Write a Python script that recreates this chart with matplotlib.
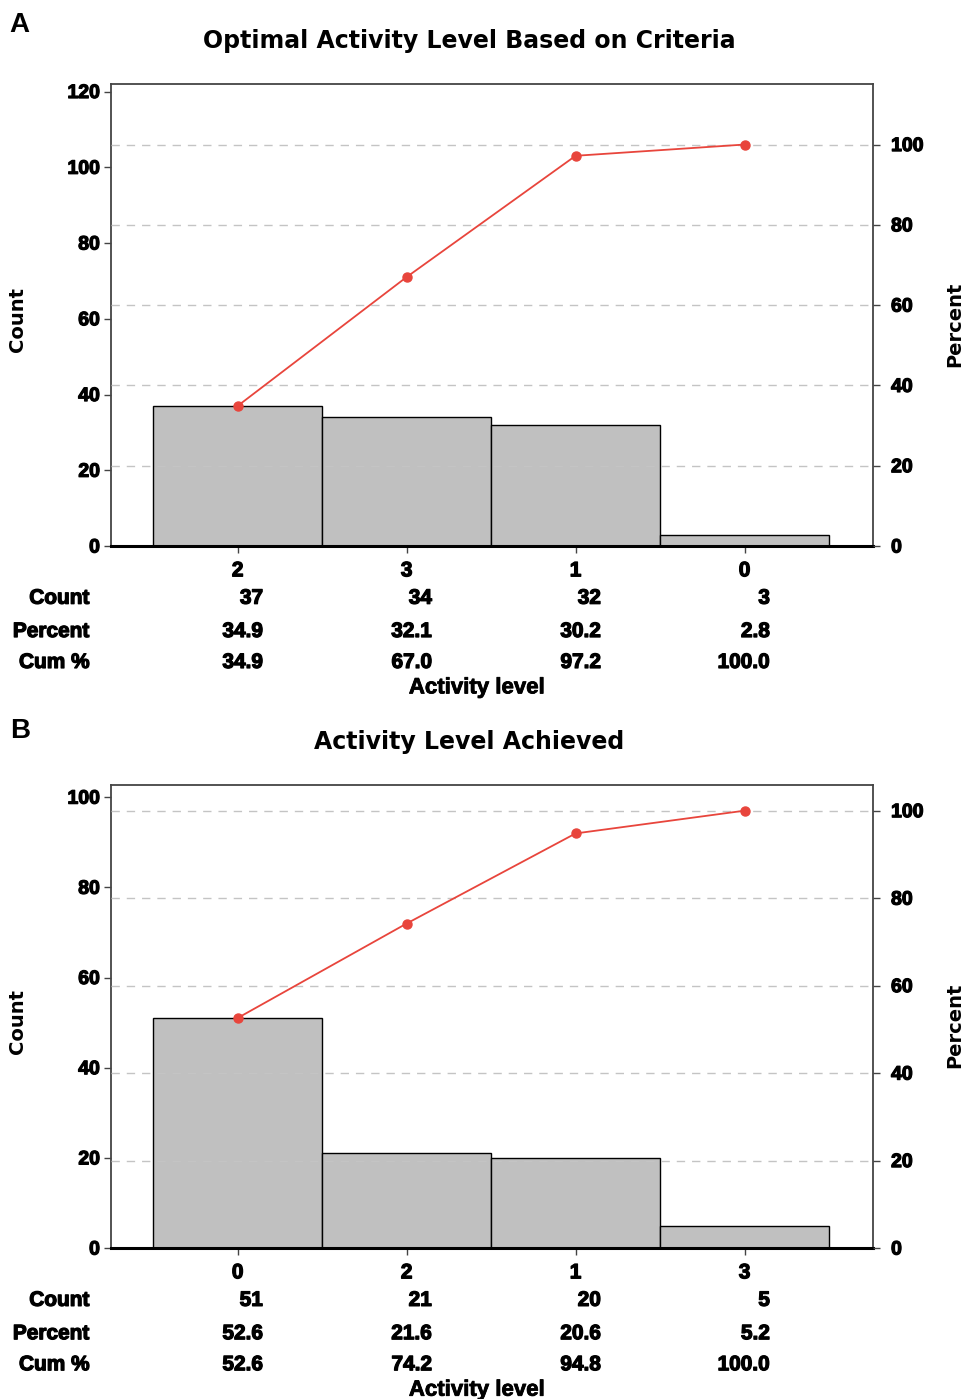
import numpy as np, matplotlib
matplotlib.use('Agg')
import matplotlib.pyplot as plt
import matplotlib.transforms as mtransforms
import matplotlib.patheffects as pe

# panel A
a_cats = ['2', '3', '1', '0']
a_count = [37, 34, 32, 3]
a_pct = [34.9, 32.1, 30.2, 2.8]
a_cum = [34.9, 67.0, 97.2, 100.0]
a_yticks = [0, 20, 40, 60, 80, 100, 120]
a_ymax = 122

# panel B
b_cats = ['0', '2', '1', '3']
b_count = [51, 21, 20, 5]
b_pct = [52.6, 21.6, 20.6, 5.2]
b_cum = [52.6, 74.2, 94.8, 100.0]
b_yticks = [0, 20, 40, 60, 80, 100]
b_ymax = 102.7

pct_ticks = [0, 20, 40, 60, 80, 100]

NUMF = ['Liberation Sans', 'DejaVu Sans']
TITF = ['DejaVu Sans']
BAR = '#c0c0c0'; RED = '#e8453c'; GRID = '#c4c4c4'; SPN = '#444444'
FAT = [pe.withStroke(linewidth=0.9, foreground='black')]

fig = plt.figure(figsize=(9.64, 13.99), dpi=100)
fig.patch.set_facecolor('white')


def num_style(labels):
    for t in labels:
        t.set_path_effects(FAT)


def pareto(rect, cats, count, pct, cum, yticks, ymax, title, letter, ly):
    ax = fig.add_axes(rect)
    total = sum(count)
    x = np.arange(len(cats))
    ax.bar(x, count, width=1.0, color=BAR, edgecolor='black', lw=1.0, zorder=2)
    ax.set_xlim(-0.75, 3.76)
    ax.set_ylim(0, ymax)
    ax.set_yticks(yticks)
    num_style(ax.set_yticklabels([str(t) for t in yticks], family=NUMF, fontweight='bold', fontsize=14))
    ax.set_xticks(x)
    num_style(ax.set_xticklabels(cats, family=NUMF, fontweight='bold', fontsize=15))
    ax.tick_params(axis='x', length=5, width=1, pad=6, color=SPN)
    ax.tick_params(axis='y', length=5, width=1, pad=3, color=SPN)
    for s in ('left', 'right', 'top'):
        ax.spines[s].set_color(SPN); ax.spines[s].set_linewidth(1.3)
    ax.spines['bottom'].set_color('black'); ax.spines['bottom'].set_linewidth(2.2)

    ax2 = ax.twinx()
    ax2.set_ylim(0, ymax / total * 100)
    ax2.set_yticks(pct_ticks)
    num_style(ax2.set_yticklabels([str(t) for t in pct_ticks], family=NUMF, fontweight='bold', fontsize=14))
    ax2.tick_params(axis='y', length=5, width=1, pad=8, color=SPN)
    for s in ax2.spines.values(): s.set_visible(False)
    for t in pct_ticks[1:]:
        ax2.axhline(t, color=GRID, lw=1.0, ls=(0, (6, 5)), zorder=0)
    ax2.plot(x, cum, color=RED, lw=1.3, marker='o', ms=6.5, zorder=3)
    ax.set_zorder(ax2.get_zorder() - 1); ax.patch.set_visible(False)
    ax2.patch.set_visible(False)

    bot, top = rect[1], rect[1] + rect[3]
    fig.text(17 / 964, bot + 0.49 * rect[3], 'Count', rotation=90, ha='center', va='center',
             family=TITF, fontweight='bold', fontsize=14)
    fig.text(955 / 964, bot + 0.48 * rect[3], 'Percent', rotation=90, ha='center', va='center',
             family=TITF, fontweight='bold', fontsize=14)

    tr = mtransforms.blended_transform_factory(ax.transData, ax.transAxes)
    rows = [('Count', [str(v) for v in count], -0.113),
            ('Percent', ['%.1f' % v for v in pct], -0.185),
            ('Cum %', ['%.1f' % v for v in cum], -0.252)]
    for lab, vals, yy in rows:
        ax.text(-0.028, yy, lab, transform=ax.transAxes, ha='right', va='center',
                family=NUMF, fontweight='bold', fontsize=15, path_effects=FAT)
        for xi, v in zip(x, vals):
            ax.text(xi + 0.15, yy, v, transform=tr, ha='right', va='center',
                    family=NUMF, fontweight='bold', fontsize=15, path_effects=FAT)
    ax.text(0.48, -0.307, 'Activity level', transform=ax.transAxes, ha='center', va='center',
            family=NUMF, fontweight='bold', fontsize=16,
            path_effects=[pe.withStroke(linewidth=0.6, foreground='black')])
    fig.text(0.487, top + 43 / 1399, title, ha='center', va='center',
             family=TITF, fontweight='bold', fontsize=17)
    fig.text(0.01, ly, letter, ha='left', va='center', family=NUMF, fontweight='bold', fontsize=20)


pareto([0.1151, 0.6097, 0.7905, 0.3303], a_cats, a_count, a_pct, a_cum, a_yticks, a_ymax,
       'Optimal Activity Level Based on Criteria', 'A', 1 - 25 / 1399)
pareto([0.1151, 0.1079, 0.7905, 0.331], b_cats, b_count, b_pct, b_cum, b_yticks, b_ymax,
       'Activity Level Achieved', 'B', 1 - 731 / 1399)

fig.savefig('out.png', facecolor='white')
